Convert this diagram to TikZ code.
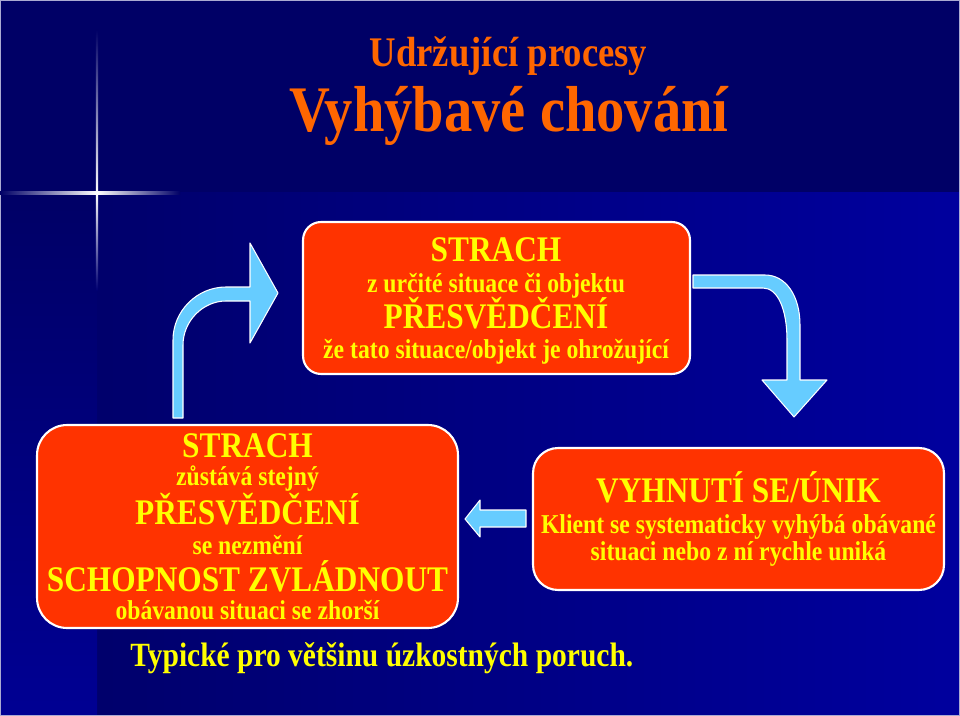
\documentclass[tikz,border=0pt]{standalone}
\usepackage{fontspec}
\setmainfont{Liberation Serif}[FakeStretch=0.87]
\usepackage{xcolor}
\usetikzlibrary{positioning}

\definecolor{slidenavy}{RGB}{0,0,102}
\definecolor{slideblue}{RGB}{0,0,158}
\definecolor{boxred}{RGB}{255,51,0}
\definecolor{textyellow}{RGB}{255,255,0}
\definecolor{titleorange}{RGB}{255,102,0}
\definecolor{arrowblue}{RGB}{102,204,255}
\definecolor{glowblue}{RGB}{40,110,255}

\tikzset{
	redbox/.style={draw=white, line width=1.2pt, fill=boxred, rounded corners=#1, inner sep=0pt},
	bigline/.style={anchor=base, inner sep=0pt, text=textyellow, font=\bfseries\fontsize{20.5}{24}\selectfont},
	smallline/.style={anchor=base, inner sep=0pt, text=textyellow, font=\bfseries\fontsize{15.5}{18}\selectfont},
	blockarrow/.style={fill=arrowblue, draw=white, line width=0.6pt, line join=round}
}

\begin{document}
\begin{tikzpicture}[x=0.02cm, y=-0.02cm]
		 %\draw[help lines] (0,0) grid (960,716);
		 \useasboundingbox (0,0) rectangle (960,716);
		 
		 % background
		 \fill[slidenavy] (0,0) rectangle (960,716);
		 \shade[left color=slidenavy!90!slideblue, right color=slideblue] (97,193) rectangle (960,716);
		 \shade[top color=slidenavy, bottom color=slidenavy!20!slideblue] (0,193) rectangle (97,716);
		 \draw[color={rgb,255:red,170;green,170;blue,210}, line width=0.8pt] (0,0) rectangle (960,716);
		 
		 % sparkle
		 \shade[left color=slidenavy, middle color=glowblue, right color=white] (0,191.8) rectangle (97,194.2);
		 \shade[left color=white, middle color=glowblue, right color=slidenavy] (97,191.8) rectangle (180,194.2);
		 \shade[top color=slidenavy, middle color=glowblue, bottom color=white] (95.8,30) rectangle (98.2,193);
		 \shade[top color=white, middle color=glowblue, bottom color=slidenavy!80!slideblue] (95.8,193) rectangle (98.2,290);
		 
		 % title
		 \node[anchor=base, inner sep=0pt, text=titleorange, font=\bfseries\fontsize{24}{28}\selectfont] (proc) at (508.5,67) {Udržující procesy};
		 \node[anchor=base, inner sep=0pt, text=titleorange, font=\bfseries\fontsize{37}{42}\selectfont] (vyhyb) at (509,132) {Vyhýbavé chování};
		 
		 % top box
		 \node[redbox=0.36cm, minimum width=7.74cm, minimum height=3.04cm] (strach) at (496.5,298) {};
		 \node[bigline] (strach1) at (496,261) {STRACH};
		 \node[smallline] (strach2) at (496,293) {z určité situace či objektu};
		 \node[bigline] (strach3) at (496,328) {PŘESVĚDČENÍ};
		 \node[smallline] (strach4) at (496,358) {že tato situace/objekt je ohrožující};
		 
		 % left box
		 \node[redbox=0.6cm, minimum width=8.42cm, minimum height=4.06cm] (stejny) at (247.5,526.5) {};
		 \node[bigline] (stejny1) at (247.5,457) {STRACH};
		 \node[smallline] (stejny2) at (247.5,485) {zůstává stejný};
		 \node[bigline] (stejny3) at (247.5,524) {PŘESVĚDČENÍ};
		 \node[smallline] (stejny4) at (247.5,554) {se nezmění};
		 \node[bigline] (stejny5) at (247.5,591) {SCHOPNOST ZVLÁDNOUT};
		 \node[smallline] (stejny6) at (247.5,619) {obávanou situaci se zhorší};
		 
		 % right box
		 \node[redbox=0.5cm, minimum width=8.22cm, minimum height=2.84cm] (unik) at (738.5,519) {};
		 \node[bigline] (unik1) at (738.5,502) {VYHNUTÍ SE/ÚNIK};
		 \node[smallline] (unik2) at (738.5,533) {Klient se systematicky vyhýbá obávané};
		 \node[smallline] (unik3) at (738.5,560) {situaci nebo z ní rychle uniká};
		 
		 % arrows
		 \filldraw[blockarrow] (173,418) -- (173,340) .. controls (173,311) and (197,287) .. (226,287) -- (250,287) -- (250,243) -- (278,293) -- (250,343) -- (250,301) -- (226,301) .. controls (203,301) and (183,321) .. (183,345) -- (183,418) -- cycle;
		 \filldraw[blockarrow] (693,275) -- (765,275) .. controls (786,275) and (800,296) .. (800,325) -- (800,380) -- (827,380) -- (794,417) -- (762,380) -- (787,380) -- (787,340) .. controls (787,310) and (778,288) .. (763,288) -- (693,288) -- cycle;
		 \filldraw[blockarrow] (526,510) -- (526,527) -- (480,527) -- (480,537) -- (465,519) -- (480,500) -- (480,510) -- cycle;
		 
		 % bottom line
		 \node[anchor=base west, inner sep=0pt, text=textyellow, font=\bfseries\fontsize{19.3}{22}\selectfont] (typicke) at (130,666) {Typické pro většinu úzkostných poruch.};
\end{tikzpicture}
\end{document}
